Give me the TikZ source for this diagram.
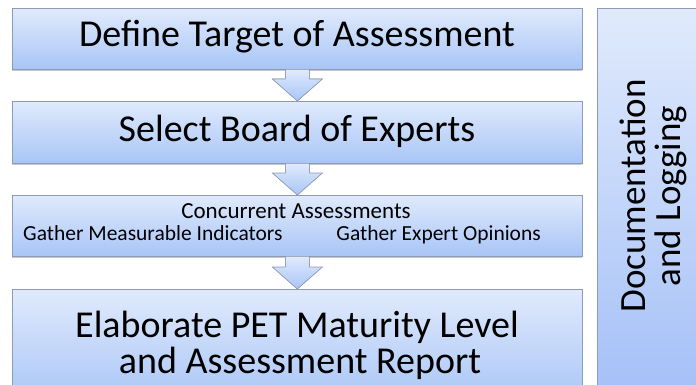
\documentclass[tikz,border=0pt]{standalone}
\usepackage{fontspec}
\setmainfont{Carlito}
\usetikzlibrary{shadows,calc}
\definecolor{boxtop}{RGB}{224,234,252}
\definecolor{boxbot}{RGB}{168,197,247}
\definecolor{boxline}{RGB}{140,156,182}
\tikzset{
  x=1pt, y=1pt,
  stepbox/.style={draw=boxline, line width=0.7pt, top color=boxtop, bottom color=boxbot,
    minimum width=570pt, inner sep=0pt, anchor=north west,
    drop shadow={shadow xshift=-0.8pt, shadow yshift=-1.6pt, opacity=0.3, fill=black!70}},
  sidebox/.style={draw=boxline, line width=0.7pt, top color=boxtop, bottom color=boxbot!97!blue,
    minimum width=120pt, minimum height=400pt, inner sep=0pt, anchor=north west},
  bigtxt/.style={font=\fontsize{38}{38}\selectfont, inner sep=0pt, anchor=base},
  midtxt/.style={font=\fontsize{23}{23}\selectfont, inner sep=0pt},
  smalltxt/.style={font=\fontsize{21.5}{22}\selectfont, inner sep=0pt},
  arrowfill/.style={top color=boxtop, bottom color=boxbot, draw=none},
  arrowline/.style={draw=boxline, line width=0.6pt, line join=miter},
}
\begin{document}
\begin{tikzpicture}
\useasboundingbox (0,0) rectangle (696,-385);
\clip (0,0) rectangle (696,-385);
\fill[white] (0,0) rectangle (696,-385);

% boxes
\node[stepbox, minimum height=61pt] (b1) at (12,-8) {};
\node[stepbox, minimum height=62pt] (b2) at (12,-101) {};
\node[stepbox, minimum height=61pt] (b3) at (12,-195) {};
\node[stepbox, minimum height=115pt] (b4) at (12,-289) {};
\node[sidebox] (side) at (597,-8) {};

% arrows
\foreach \a/\b in {b1/b2, b2/b3, b3/b4}{
  \coordinate (s) at (\a.south);
  \coordinate (t) at (\b.north);
  \path let \p1=(s), \p2=(t), \n1={\y2+22} in
    coordinate (hl) at (\x1-25,\n1) coordinate (hr) at (\x1+25,\n1)
    coordinate (sl) at (\x1-12,\n1) coordinate (sr) at (\x1+12,\n1)
    coordinate (tl) at (\x1-12,\y1+0.4) coordinate (tr) at (\x1+12,\y1+0.4);
  \fill[arrowfill] (tl) -- (sl) -- (hl) -- (t) -- (hr) -- (sr) -- (tr) -- cycle;
  \draw[arrowline] (tl) -- (sl) -- (hl) -- (t) -- (hr) -- (sr) -- (tr);
}

% texts
\node[bigtxt] (t1) at (297,-47) {Define Target of Assessment};
\node[bigtxt] (t2) at (297,-142) {Select Board of Experts};
\node[midtxt, anchor=base] (t3) at (296,-218) {Concurrent Assessments};
\node[smalltxt, anchor=base west] (t3a) at (23,-240) {Gather Measurable Indicators};
\node[smalltxt, anchor=base east] (t3b) at (541,-240) {Gather Expert Opinions};
\node[bigtxt] (t4a) at (297,-337) {Elaborate PET Maturity Level};
\node[bigtxt] (t4b) at (300,-373) {and Assessment Report};
\node[font=\fontsize{37}{35}\selectfont, align=center, rotate=90, inner sep=0pt] (ts) at (653,-196)
  {Documentation\\and Logging};
\end{tikzpicture}
\end{document}
